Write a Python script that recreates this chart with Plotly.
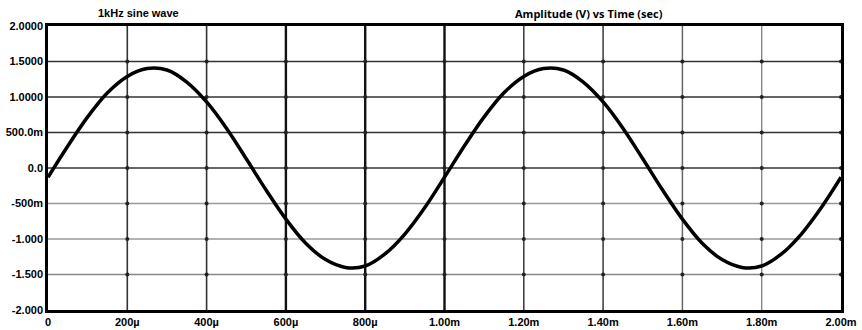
import plotly.graph_objects as go

# ---- data ----
time_ms = [0.00, 0.05, 0.10, 0.15, 0.20, 0.25, 0.30, 0.35, 0.40, 0.45,
           0.50, 0.55, 0.60, 0.65, 0.70, 0.75, 0.80, 0.85, 0.90, 0.95,
           1.00, 1.05, 1.10, 1.15, 1.20, 1.25, 1.30, 1.35, 1.40, 1.45,
           1.50, 1.55, 1.60, 1.65, 1.70, 1.75, 1.80, 1.85, 1.90, 1.95, 2.00]
amplitude_v = [-0.13, 0.31, 0.72, 1.06, 1.29, 1.40, 1.38, 1.21, 0.93, 0.56,
               0.13, -0.31, -0.72, -1.06, -1.29, -1.40, -1.38, -1.21, -0.93, -0.56,
               -0.13, 0.31, 0.72, 1.06, 1.29, 1.40, 1.38, 1.21, 0.93, 0.56,
               0.13, -0.31, -0.72, -1.06, -1.29, -1.40, -1.38, -1.21, -0.93, -0.56, -0.13]

x_tickvals = [0, 0.2, 0.4, 0.6, 0.8, 1.0, 1.2, 1.4, 1.6, 1.8, 2.0]
x_ticktext = ["0", "200µ", "400µ", "600µ", "800µ", "1.00m", "1.20m", "1.40m", "1.60m", "1.80m", "2.00m"]
y_tickvals = [2.0, 1.5, 1.0, 0.5, 0.0, -0.5, -1.0, -1.5, -2.0]
y_ticktext = ["2.0000", "1.5000", "1.0000", "500.0m", "0.0", "-500m", "-1.000", "-1.500", "-2.000"]

# grid line styling (colour, width) per interior line
x_grid_style = {0.2: ("#333", 1.6), 0.4: ("#333", 1.6), 0.6: ("#111", 2.4), 0.8: ("#111", 2.4),
                1.0: ("#111", 2.4), 1.2: ("#444", 1.6), 1.4: ("#444", 1.6), 1.6: ("#666", 1.5),
                1.8: ("#888", 1.4)}
y_grid_style = {1.5: ("#333", 1.6), 1.0: ("#333", 1.6), 0.5: ("#333", 1.6), 0.0: ("#333", 1.6),
                -0.5: ("#999", 1.4), -1.0: ("#999", 1.4), -1.5: ("#888", 1.4)}

fig = go.Figure()

shapes = []
for xv, (c, w) in x_grid_style.items():
    shapes.append(dict(type="line", xref="x", yref="paper", x0=xv, x1=xv, y0=0, y1=1,
                       line=dict(color=c, width=w), layer="below"))
for yv, (c, w) in y_grid_style.items():
    shapes.append(dict(type="line", xref="paper", yref="y", x0=0, x1=1, y0=yv, y1=yv,
                       line=dict(color=c, width=w), layer="below"))

# intersection dots
dot_x, dot_y = [], []
for xv in x_tickvals[1:]:
    for yv in y_tickvals[1:-1]:
        dot_x.append(xv)
        dot_y.append(yv)
fig.add_trace(go.Scatter(x=dot_x, y=dot_y, mode="markers",
                         marker=dict(color="#222", size=4), hoverinfo="skip", showlegend=False))

fig.add_trace(go.Scatter(x=time_ms, y=amplitude_v, mode="lines",
                         line=dict(color="black", width=3.5, shape="spline", smoothing=1.0),
                         showlegend=False))

fig.update_layout(
    width=862, height=330,
    margin=dict(l=48, r=21, t=26, b=20),
    paper_bgcolor="white", plot_bgcolor="white",
    shapes=shapes,
    font=dict(family="Liberation Sans", size=11, color="black"),
    annotations=[
        dict(text="<b>1kHz sine wave</b>", xref="paper", yref="paper", x=0.06, y=1.0,
             yshift=13, showarrow=False, xanchor="left", yanchor="middle",
             font=dict(family="Liberation Sans Narrow, Liberation Sans", size=11)),
        dict(text="<b>Amplitude (V) vs Time (sec)</b>", xref="paper", yref="paper", x=0.587, y=1.0,
             yshift=13, showarrow=False, xanchor="left", yanchor="middle",
             font=dict(family="Open Sans", size=11)),
    ],
)
fig.update_xaxes(range=[0, 2.0], tickvals=x_tickvals, ticktext=[f"<b>{t}</b>" for t in x_ticktext],
                 showgrid=False, zeroline=False, showline=True, linecolor="black", linewidth=2.5,
                 mirror=True, ticks="", automargin=False, tickfont=dict(size=11))
fig.update_yaxes(range=[-2.0, 2.0], tickvals=y_tickvals, ticktext=[f"<b>{t}</b>" for t in y_ticktext],
                 showgrid=False, zeroline=False, showline=True, linecolor="black", linewidth=2.5,
                 mirror=True, ticks="", automargin=False, ticklabelstandoff=0, tickfont=dict(size=11))

fig.write_html("out.html", config={"displayModeBar": False},
               post_script="document.body.style.margin='0px';document.body.style.overflow='hidden';")
